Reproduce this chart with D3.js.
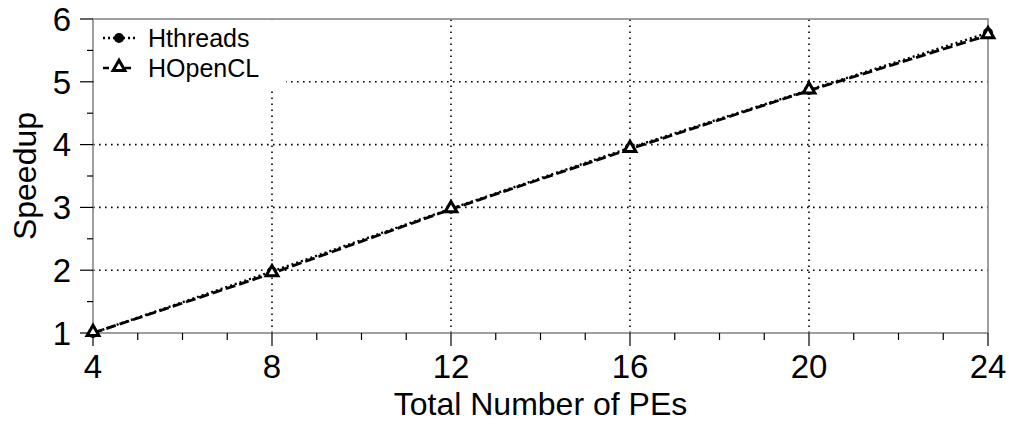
<!DOCTYPE html>
<html>
<head>
<meta charset="utf-8">
<script src="https://cdn.jsdelivr.net/npm/d3@7"></script>
<style>
  body { margin: 0; background: #fff; }
  svg { display: block; font-family: 'Liberation Sans', Arial, sans-serif; }
</style>
</head>
<body>
<div id="chart"></div>
<script>
const pes = [4, 8, 12, 16, 20, 24]
const hthreads = [1, 1.98, 2.98, 3.95, 4.87, 5.78]
const hopencl = [1, 1.95, 2.97, 3.93, 4.86, 5.74]
const xTicks = [4, 8, 12, 16, 20, 24]
const yTicks = [1, 2, 3, 4, 5, 6]
const seriesNames = ['Hthreads', 'HOpenCL']

const width = 1009, height = 425
const margin = { top: 19, right: 21, bottom: 92, left: 93 }

const svg = d3.select('#chart').append('svg')
  .attr('width', width)
  .attr('height', height)

const x = d3.scaleLinear().domain([4, 24]).range([margin.left, width - margin.right])
const y = d3.scaleLinear().domain([1, 6]).range([height - margin.bottom, margin.top])

const x0 = x.range()[0], x1 = x.range()[1]
const y0 = y.range()[0], y1 = y.range()[1]

// grid
const grid = svg.append('g')
  .attr('stroke', '#000')
  .attr('stroke-width', 1.6)
  .attr('stroke-dasharray', '1.6,4.4')
grid.selectAll('line.gx')
  .data(xTicks.slice(1, -1))
  .join('line')
  .attr('x1', d => x(d)).attr('x2', d => x(d))
  .attr('y1', y0).attr('y2', y1)
grid.selectAll('line.gy')
  .data(yTicks.slice(1, -1))
  .join('line')
  .attr('y1', d => y(d)).attr('y2', d => y(d))
  .attr('x1', x0).attr('x2', x1)

// legend background hides grid
svg.append('rect')
  .attr('x', x0 + 1).attr('y', y1 + 1)
  .attr('width', 192).attr('height', 70)
  .attr('fill', '#fff')

// frame
svg.append('rect')
  .attr('x', x0).attr('y', y1)
  .attr('width', x1 - x0).attr('height', y0 - y1)
  .attr('fill', 'none')
  .attr('stroke', '#808080')
  .attr('stroke-width', 1.5)

// x axis
const xAxis = svg.append('g').attr('transform', `translate(0,${y0})`)
xAxis.selectAll('line.minor')
  .data(d3.range(4, 25, 1).filter(d => d % 4 !== 0))
  .join('line')
  .attr('x1', d => x(d)).attr('x2', d => x(d))
  .attr('y1', 0).attr('y2', 7)
  .attr('stroke', '#000').attr('stroke-width', 1.2)
xAxis.selectAll('line.major')
  .data(xTicks)
  .join('line')
  .attr('x1', d => x(d)).attr('x2', d => x(d))
  .attr('y1', 0).attr('y2', 13)
  .attr('stroke', '#000').attr('stroke-width', 1.2)
xAxis.selectAll('text')
  .data(xTicks)
  .join('text')
  .attr('x', d => x(d))
  .attr('y', 45)
  .attr('text-anchor', 'middle')
  .attr('font-size', 33)
  .text(d => d)

// y axis
const yAxis = svg.append('g').attr('transform', `translate(${x0},0)`)
yAxis.selectAll('line.minor')
  .data(d3.range(1.5, 6, 1))
  .join('line')
  .attr('y1', d => y(d)).attr('y2', d => y(d))
  .attr('x1', 0).attr('x2', -6)
  .attr('stroke', '#000').attr('stroke-width', 1.2)
yAxis.selectAll('line.major')
  .data(yTicks)
  .join('line')
  .attr('y1', d => y(d)).attr('y2', d => y(d))
  .attr('x1', 0).attr('x2', -13)
  .attr('stroke', '#000').attr('stroke-width', 1.2)
yAxis.selectAll('text')
  .data(yTicks)
  .join('text')
  .attr('x', -22)
  .attr('y', d => y(d))
  .attr('dy', '0.36em')
  .attr('text-anchor', 'end')
  .attr('font-size', 33)
  .text(d => d)

// axis titles
svg.append('text')
  .attr('x', (x0 + x1) / 2)
  .attr('y', 415)
  .attr('text-anchor', 'middle')
  .attr('font-size', 32)
  .text('Total Number of PEs')
svg.append('text')
  .attr('transform', `translate(36,${(y0 + y1) / 2}) rotate(-90)`)
  .attr('text-anchor', 'middle')
  .attr('font-size', 32)
  .text('Speedup')

// series
const line = d3.line().x(d => x(d[0])).y(d => y(d[1]))
const dataH = pes.map((p, i) => [p, hthreads[i]])
const dataO = pes.map((p, i) => [p, hopencl[i]])

svg.append('path')
  .datum(dataH)
  .attr('d', line)
  .attr('fill', 'none')
  .attr('stroke', '#000')
  .attr('stroke-width', 2.4)
  .attr('stroke-dasharray', '2,3')

svg.append('path')
  .datum(dataO)
  .attr('d', line)
  .attr('fill', 'none')
  .attr('stroke', '#000')
  .attr('stroke-width', 2.8)
  .attr('stroke-dasharray', '10,4')

const tri = d3.symbol().type(d3.symbolTriangle).size(60)

svg.append('g').selectAll('circle')
  .data(dataH)
  .join('circle')
  .attr('cx', d => x(d[0]))
  .attr('cy', d => y(d[1]))
  .attr('r', 5)
  .attr('fill', '#000')

svg.append('g').selectAll('path')
  .data(dataO)
  .join('path')
  .attr('d', tri)
  .attr('transform', d => `translate(${x(d[0])},${y(d[1]) - 1})`)
  .attr('fill', '#fff')
  .attr('stroke', '#000')
  .attr('stroke-width', 3)

// legend
const legend = svg.append('g')
const rows = [
  { name: seriesNames[0], y: 38, dash: '2,3', marker: 'circle' },
  { name: seriesNames[1], y: 68, dash: '6,5', marker: 'tri' }
]
rows.forEach(r => {
  legend.append('line')
    .attr('x1', 103).attr('x2', 136)
    .attr('y1', r.y).attr('y2', r.y)
    .attr('stroke', '#000')
    .attr('stroke-width', 2.6)
    .attr('stroke-dasharray', r.dash)
  if (r.marker === 'circle') {
    legend.append('circle')
      .attr('cx', 119).attr('cy', r.y).attr('r', 5).attr('fill', '#000')
  } else {
    legend.append('path')
      .attr('d', tri)
      .attr('transform', `translate(119,${r.y - 1})`)
      .attr('fill', '#fff')
      .attr('stroke', '#000')
      .attr('stroke-width', 3)
  }
  legend.append('text')
    .attr('x', 148)
    .attr('y', r.y)
    .attr('dy', '0.36em')
    .attr('font-size', 25)
    .text(r.name)
})
</script>
</body>
</html>
